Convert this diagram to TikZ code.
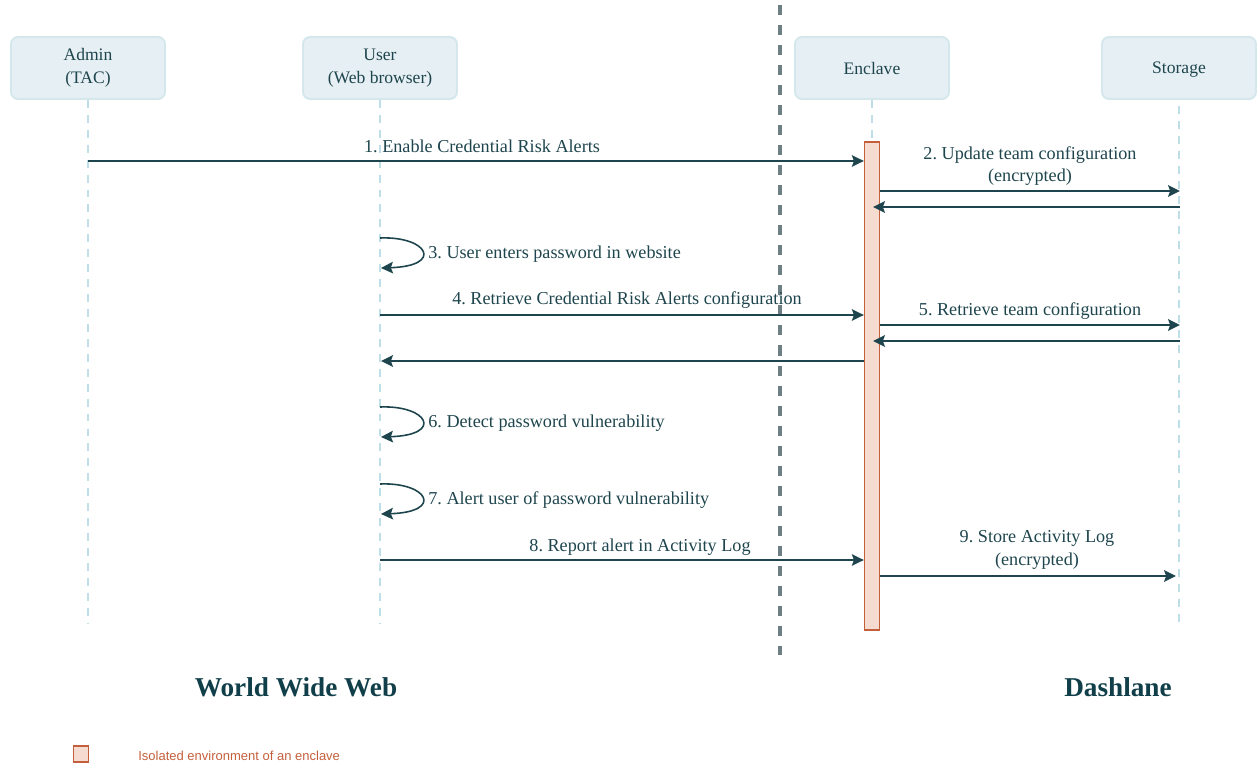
\documentclass[tikz,border=0pt]{standalone}
\usepackage{fontspec}
\setmainfont{Liberation Serif}
\newfontfamily\legendfont{Liberation Sans}
\usetikzlibrary{arrows.meta}
\frenchspacing

\definecolor{ink}{HTML}{1E454D}
\definecolor{actorfill}{HTML}{E6EFF3}
\definecolor{actoredge}{HTML}{D3E7EC}
\definecolor{lifeline}{HTML}{BEDFE7}
\definecolor{divider}{HTML}{6E7F84}
\definecolor{enclavefill}{HTML}{F6DBD0}
\definecolor{enclaveedge}{HTML}{C45F3C}
\definecolor{heading}{HTML}{113F49}

\tikzset{
  actor/.style={draw=actoredge, fill=actorfill, line width=1.1pt, rounded corners=4pt,
    minimum width=3.08cm, minimum height=1.24cm, align=center, text=ink,
    font=\fontsize{10}{13}\selectfont, inner sep=0pt},
  lifeln/.style={draw=lifeline, line width=1.1pt, dash pattern=on 4.5pt off 4pt},
  divline/.style={draw=divider, line width=2.3pt, dash pattern=on 5.7pt off 5.7pt},
  activation/.style={draw=enclaveedge, fill=enclavefill, line width=0.8pt,
    minimum width=0.3cm, minimum height=9.76cm, inner sep=0pt},
  msg/.style={draw=ink, line width=0.9pt, -{Stealth[length=6.8pt,width=6.6pt,inset=1.2pt]}},
  msglabel/.style={text=ink, font=\fontsize{10.35}{13}\selectfont, align=center, inner sep=0pt},
  heading/.style={text=heading, font=\fontsize{15.5}{18}\selectfont\bfseries},
  legendbox/.style={draw=enclaveedge, fill=enclavefill, line width=0.8pt,
    minimum width=0.3cm, minimum height=0.32cm, inner sep=0pt},
  legendtext/.style={text=enclaveedge, font=\legendfont\fontsize{7.4}{9}\selectfont, inner sep=0pt}
}

\begin{document}
\begin{tikzpicture}[x=0.02cm, y=-0.02cm]
  \useasboundingbox (0,0) rectangle (1257,766);

  % zone divider
  \draw[divline] (780,5) -- (780,655);

  % participants
  \node[actor] (admin)   at (88,68)   {Admin\\(TAC)};
  \node[actor] (user)    at (380,68)  {User\\(Web browser)};
  \node[actor] (enclave) at (872,68)  {Enclave};
  \node[actor] (storage) at (1179,68) {\raisebox{0pt}[\height][0pt]{Storage}};

  % lifelines
  \coordinate (adminEnd)   at (88,624);
  \coordinate (userEnd)    at (380,624);
  \coordinate (enclaveEnd) at (872,622);
  \coordinate (storageEnd) at (1180,622);
  \draw[lifeln] (admin.south)   -- (adminEnd);
  \draw[lifeln] (user.south)    -- (userEnd);
  \draw[lifeln] (enclave.south) -- (enclaveEnd);
  \draw[lifeln] (storage.south |- storageEnd) -- (storage.south);

  % enclave activation
  \node[activation] (act) at (872,386) {};

  % 1
  \coordinate (m1) at (88,161);
  \draw[msg] (m1) -- (act.west |- m1);
  \node[msglabel] (l1) at (482,146) {1. Enable Credential Risk Alerts};

  % 2
  \coordinate (m2) at (1180,191);
  \draw[msg] (act.east |- m2) -- (m2);
  \node[msglabel] (l2) at (1030,166) {2. Update team configuration\\(encrypted)};
  \coordinate (r2s) at (1180,207);
  \coordinate (r2e) at (873,207);
  \draw[msg] (r2s) -- (r2e);

  % 3
  \coordinate (s3a) at (380,238);
  \coordinate (s3b) at (381,268);
  \draw[msg] (s3a) .. controls (428,236) and (444,266) .. (s3b);
  \node[msglabel, anchor=west] (l3) at (428,254) {3. User enters password in website};

  % 4
  \coordinate (m4) at (380,315);
  \draw[msg] (m4) -- (act.west |- m4);
  \node[msglabel] (l4) at (627,300) {4. Retrieve Credential Risk Alerts configuration};

  % 5
  \coordinate (m5) at (1180,325);
  \draw[msg] (act.east |- m5) -- (m5);
  \node[msglabel] (l5) at (1030,311) {5. Retrieve team configuration};
  \coordinate (r5s) at (1180,341);
  \coordinate (r5e) at (873,341);
  \draw[msg] (r5s) -- (r5e);

  % reply to the browser
  \coordinate (r4) at (381,361);
  \draw[msg] (act.west |- r4) -- (r4);

  % 6
  \coordinate (s6a) at (380,407);
  \coordinate (s6b) at (381,437);
  \draw[msg] (s6a) .. controls (428,405) and (444,435) .. (s6b);
  \node[msglabel, anchor=west] (l6) at (428,423) {6. Detect password vulnerability};

  % 7
  \coordinate (s7a) at (380,484);
  \coordinate (s7b) at (381,514);
  \draw[msg] (s7a) .. controls (428,482) and (444,512) .. (s7b);
  \node[msglabel, anchor=west] (l7) at (428,500) {7. Alert user of password vulnerability};

  % 8
  \coordinate (m8) at (380,560);
  \draw[msg] (m8) -- (act.west |- m8);
  \node[msglabel] (l8) at (640,547) {8. Report alert in Activity Log};

  % 9
  \coordinate (m9) at (1176,576);
  \draw[msg] (act.east |- m9) -- (m9);
  \node[msglabel] (l9) at (1037,550) {9. Store Activity Log\\(encrypted)};

  % zone headings
  \node[heading] (www)  at (296,687)  {World Wide Web};
  \node[heading] (dash) at (1118,687) {Dashlane};

  % legend
  \node[legendbox] (key) at (81,754) {};
  \node[legendtext, anchor=west] (keytext) at (138,756) {Isolated environment of an enclave};
\end{tikzpicture}
\end{document}
